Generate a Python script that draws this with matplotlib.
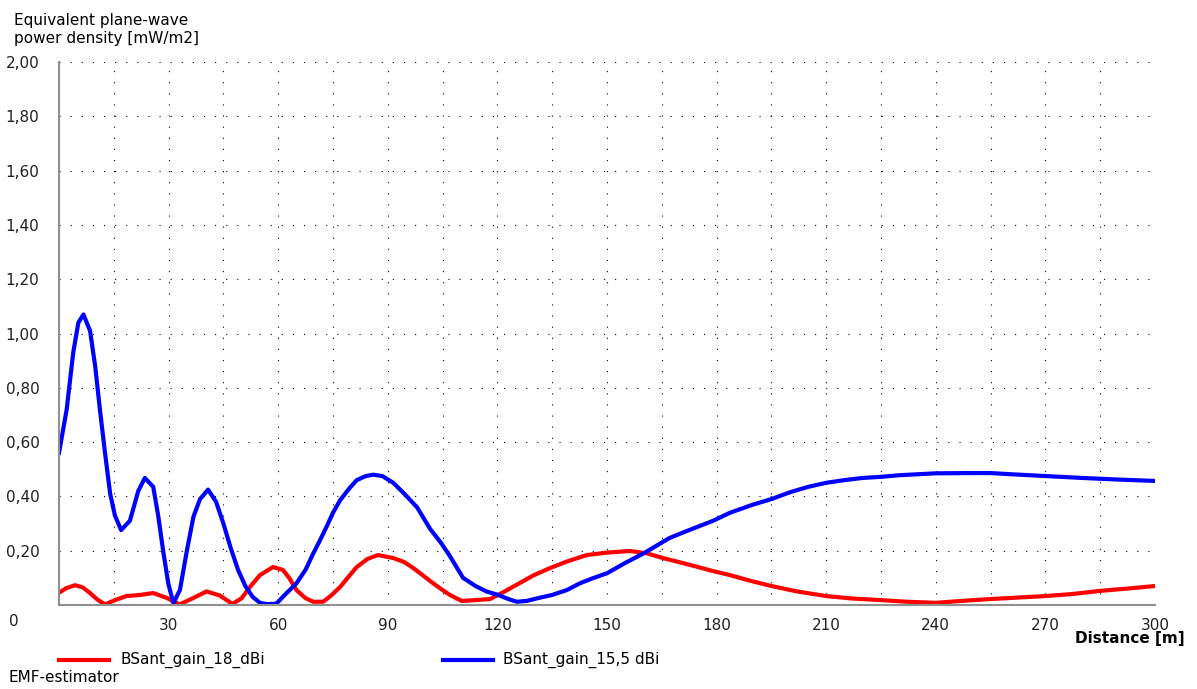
import numpy as np
from matplotlib import pyplot as plt

# distance [m] and power density [mW/m2]
x_18 = [0, 2, 4.4, 6.5, 8.5, 10.5, 12.6, 15.3, 18.5, 22.2, 25.8, 29.5, 33, 36.8,
        40.4, 44, 47.5, 50, 52.3, 55, 58.6, 61.3, 63, 65, 67.5, 69.6, 72.3, 74.5,
        77, 79, 81.5, 84.5, 87.3, 91.5, 94.5, 97, 100, 102.4, 105, 107, 110.2, 114,
        118, 122, 126, 130, 134.4, 139, 144.5, 150, 156.3, 161, 165.3, 170, 174.6,
        179, 183.7, 189, 195, 202, 210, 217, 225, 232, 240, 247, 255, 262, 270,
        277, 285, 292, 300]
y_18 = [0.045, 0.062, 0.073, 0.065, 0.044, 0.02, 0.002, 0.018, 0.033, 0.037, 0.044,
        0.026, 0.002, 0.026, 0.05, 0.035, 0.004, 0.025, 0.067, 0.11, 0.14, 0.129,
        0.1, 0.055, 0.025, 0.012, 0.012, 0.035, 0.067, 0.1, 0.14, 0.17, 0.184,
        0.173, 0.158, 0.136, 0.105, 0.08, 0.055, 0.037, 0.015, 0.018, 0.022, 0.05,
        0.08, 0.11, 0.136, 0.16, 0.184, 0.193, 0.199, 0.19, 0.173, 0.157, 0.141,
        0.125, 0.11, 0.09, 0.07, 0.05, 0.033, 0.024, 0.018, 0.012, 0.008, 0.015,
        0.022, 0.027, 0.033, 0.04, 0.052, 0.06, 0.07]

x_155 = [0, 2.1, 3.9, 5.3, 6.7, 8.5, 9.9, 11.2, 12.6, 14, 15.3, 17, 19.4, 21.7,
         23.5, 25.8, 27.2, 28.5, 29.9, 31.3, 33.1, 35, 36.8, 38.6, 40.8, 43, 45,
         47, 49, 51, 53, 55, 57, 59.5, 62, 65, 67.5, 69.6, 71.5, 73.3, 75, 77,
         79.5, 81.5, 84, 86, 88.5, 91.5, 94.5, 98, 101.6, 104.5, 107, 110.6, 114,
         117, 120, 123, 125.3, 128, 131, 135, 139, 142.6, 146, 150, 155, 160, 163.5,
         167, 171, 174.6, 179, 183.7, 190, 195, 200, 205, 210, 215, 220, 225, 230,
         240, 250, 255, 260, 270, 280, 290, 300]
y_155 = [0.56, 0.72, 0.93, 1.04, 1.07, 1.01, 0.88, 0.72, 0.56, 0.41, 0.33, 0.276,
         0.31, 0.42, 0.468, 0.435, 0.325, 0.2, 0.08, 0.007, 0.055, 0.2, 0.325,
         0.39, 0.425, 0.38, 0.3, 0.21, 0.13, 0.07, 0.03, 0.008, 0.003, 0.005, 0.04,
         0.08, 0.13, 0.19, 0.24, 0.29, 0.34, 0.387, 0.43, 0.46, 0.475, 0.48, 0.475,
         0.45, 0.41, 0.36, 0.28, 0.23, 0.18, 0.1, 0.07, 0.05, 0.038, 0.022, 0.012,
         0.015, 0.025, 0.037, 0.055, 0.08, 0.098, 0.117, 0.155, 0.19, 0.218, 0.246,
         0.268, 0.287, 0.31, 0.34, 0.37, 0.39, 0.415, 0.435, 0.45, 0.46, 0.468,
         0.472, 0.478, 0.485, 0.486, 0.486, 0.482, 0.475, 0.468, 0.462, 0.457]

x_ticks = [30, 60, 90, 120, 150, 180, 210, 240, 270, 300]
y_ticks = [0.2, 0.4, 0.6, 0.8, 1.0, 1.2, 1.4, 1.6, 1.8, 2.0]

plt.rcParams['font.family'] = ['DejaVu Sans']
W, H = 1197, 689
FS = 11

fig = plt.figure(figsize=(W / 100, H / 100), dpi=100)
ax = fig.add_axes([59 / W, 1 - 605 / H, (1155 - 59) / W, (605 - 62) / H])

ax.plot(x_18, y_18, color='#ff0000', lw=3, solid_joinstyle='round')
ax.plot(x_155, y_155, color='#0000ff', lw=3, solid_joinstyle='round')

ax.set_xlim(0, 300)
ax.set_ylim(0, 2)
# grid every 15 m, labels every 30 m
ax.set_xticks(np.arange(0, 301, 15))
ax.set_xticklabels(['' if (v % 30 or v == 0) else str(v) for v in range(0, 301, 15)])
ax.set_yticks(np.arange(0, 2.01, 0.2))
ax.set_yticklabels([''] + [('%.2f' % v).replace('.', ',') for v in y_ticks])
ax.tick_params(length=0, labelsize=FS, colors='#202020')
ax.tick_params(axis='x', pad=9)
ax.tick_params(axis='y', pad=14)
ax.grid(True, color='black', lw=0.8, linestyle=(0, (1, 9)))

for s in ['top', 'right']:
    ax.spines[s].set_visible(False)
for s in ['left', 'bottom']:
    ax.spines[s].set_color('#909090')
    ax.spines[s].set_linewidth(1.5)

fig.text(14 / W, 1 - 621 / H, '0', fontsize=FS, ha='center', va='center', color='#202020')
fig.text(14 / W, 1 - 25 / H, 'Equivalent plane-wave', fontsize=FS, ha='left', va='baseline')
fig.text(14 / W, 1 - 43 / H, 'power density [mW/m2]', fontsize=FS, ha='left', va='baseline')
fig.text(1185 / W, 1 - 639 / H, 'Distance [m]', fontsize=11, fontweight='bold',
         ha='right', va='center')

# legend drawn by hand to keep the spread-out layout
fig.add_artist(plt.Line2D([59 / W, 109 / W], [1 - 660 / H] * 2, color='#ff0000', lw=3))
fig.text(120 / W, 1 - 660 / H, 'BSant_gain_18_dBi', fontsize=FS, va='center')
fig.add_artist(plt.Line2D([443 / W, 493 / W], [1 - 660 / H] * 2, color='#0000ff', lw=3))
fig.text(503 / W, 1 - 660 / H, 'BSant_gain_15,5 dBi', fontsize=FS, va='center')
fig.text(9 / W, 1 - 678 / H, 'EMF-estimator', fontsize=FS, va='center')

plt.savefig('out.png', dpi=100)
